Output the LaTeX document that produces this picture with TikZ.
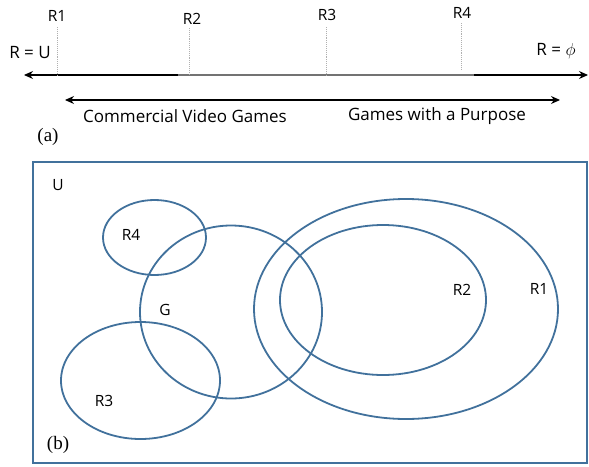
\documentclass[tikz,border=0pt]{standalone}
\usepackage{fontspec}
\setmainfont{Liberation Serif}
\newfontfamily\labelfont{Open Sans}
\usetikzlibrary{arrows.meta}
\definecolor{setblue}{HTML}{41719C}
\definecolor{tickgray}{HTML}{B0B0B0}
\tikzset{
  lbl/.style={font=\labelfont\fontsize{15.5}{15.5}\selectfont, inner sep=0pt},
  biglbl/.style={font=\labelfont\fontsize{17}{17}\selectfont, inner sep=0pt},
  figcap/.style={font=\fontsize{19}{19}\selectfont, inner sep=0pt},
  tickline/.style={draw=tickgray, line width=0.9pt, densely dotted},
  twoway/.style={line width=1.1pt, {Stealth[length=9pt,width=8pt]}-{Stealth[length=9pt,width=8pt]}},
  setline/.style={draw=setblue, line width=1.8pt},
}
\begin{document}
\begin{tikzpicture}[x=1pt,y=-1pt]
\useasboundingbox (0,0) rectangle (589,466);

% ---------- (a) the scale of restrictions ----------
\coordinate (axL) at (24,75);
\coordinate (axR) at (588,75);
\draw[twoway] (axL) -- (axR);
\draw[line width=1.3pt, black!55] (178,75) -- (474,75);

% tick marks: top and foot of each dotted line
\coordinate (h1) at (57,27);  \coordinate (t1) at (57,75);
\coordinate (h2) at (189,28); \coordinate (t2) at (189,75);
\coordinate (h3) at (326,27); \coordinate (t3) at (326,75);
\coordinate (h4) at (461,23); \coordinate (t4) at (461,69);
\draw[tickline] (h1) -- (t1);
\draw[tickline] (h2) -- (t2);
\draw[tickline] (h3) -- (t3);
\draw[tickline] (h4) -- (t4);
\node[lbl] (r1) at (57,16)  {R1};
\node[lbl] (r2) at (192,19) {R2};
\node[lbl] (r3) at (327,15) {R3};
\node[lbl] (r4) at (462,13) {R4};

\node[biglbl] (ru) at (30,53) {R = U};
\node[biglbl] (rphi) at (556,51) {R = \fontsize{19}{19}\selectfont$\phi$};

\coordinate (gaL) at (65,100);
\coordinate (gaR) at (560,100);
\draw[twoway] (gaL) -- (gaR);
\node[biglbl] (cvg) at (185,116) {Commercial Video Games};
\node[biglbl] (gwp) at (437,116) {Games with a Purpose};
\node[figcap] (capa) at (48,137) {(a)};

% ---------- (b) the sets ----------
\draw[setline] (33,162) rectangle (587,463);
\node[lbl] (u) at (58,185) {U};

\draw[setline] (154.5,237.5) ellipse [x radius=51.5, y radius=37.5];
\draw[setline] (231,312) ellipse [x radius=91, y radius=86.5];
\draw[setline] (140.5,380.5) ellipse [x radius=79.5, y radius=58.5];
\draw[setline] (406,309) ellipse [x radius=152, y radius=110];
\draw[setline] (383,300) ellipse [x radius=103, y radius=75];

\node[lbl] (sr4) at (131,235) {R4};
\node[lbl] (sg)  at (165,310) {G};
\node[lbl] (sr3) at (104,401) {R3};
\node[lbl] (sr2) at (462,290) {R2};
\node[lbl] (sr1) at (539,289) {R1};
\node[figcap] (capb) at (58,445) {(b)};
\end{tikzpicture}
\end{document}
